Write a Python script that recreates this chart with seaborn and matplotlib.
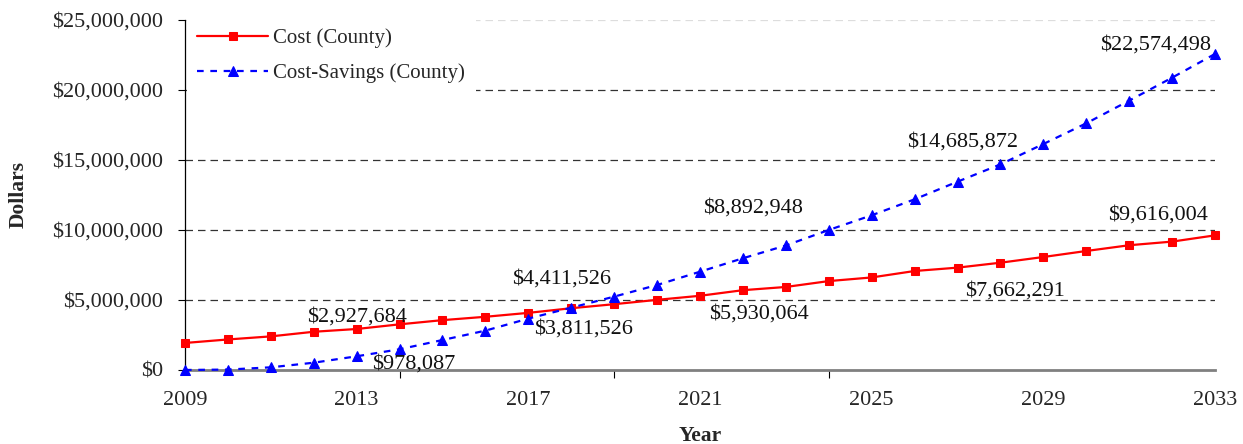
import matplotlib
matplotlib.use("Agg")
import matplotlib.pyplot as plt
from matplotlib.ticker import FuncFormatter, FixedLocator
import seaborn as sns

# data (dollars)
years = list(range(2009, 2034))
cost = [1930000, 2180000, 2400000, 2730000, 2927684, 3260000, 3560000, 3800000,
        4080000, 4411526, 4700000, 5010000, 5300000, 5700000, 5930064, 6350000,
        6610000, 7070000, 7310000, 7662291, 8070000, 8500000, 8910000, 9170000,
        9616004]
savings = [0, 30000, 190000, 520000, 978087, 1480000, 2140000, 2810000,
           3670000, 4450000, 5240000, 6070000, 7020000, 7980000, 8892948,
           10000000, 11050000, 12190000, 13450000, 14685872, 16140000,
           17620000, 19240000, 20880000, 22574498]

# data labels: which series, which year, text
label_series = ["cost", "savings", "cost", "savings", "cost", "savings",
                "cost", "savings", "cost", "savings"]
label_years = [2013, 2013, 2018, 2018, 2023, 2023, 2028, 2028, 2033, 2033]
label_texts = ["$2,927,684", "$978,087", "$4,411,526", "$3,811,526",
               "$5,930,064", "$8,892,948", "$7,662,291", "$14,685,872",
               "$9,616,004", "$22,574,498"]
# label offsets in pixels from the point (x right, y up)
label_offsets = [(0, 12), (57, -8), (-10, 29), (12, -21), (-27, -27),
                 (-33, 37), (15, -28), (-38, 22), (-57, 20), (-59, 9)]

sns.set_style("white")
plt.rcParams["font.family"] = ["Liberation Serif", "DejaVu Serif"]

fig = plt.figure(figsize=(12.43, 4.44), dpi=100)
ax = fig.add_subplot(111)
fig.subplots_adjust(left=0.1488, right=0.9775, bottom=0.1667, top=0.955)

sns.lineplot(x=years, y=cost, color="#FF0000", marker="s", markersize=6,
             markeredgecolor="#FF0000", linewidth=1.6, label="Cost (County)",
             ax=ax, clip_on=False, zorder=4)
sns.lineplot(x=years, y=savings, color="#0000FF", marker="^", markersize=7,
             markeredgecolor="#0000FF", linewidth=1.6,
             linestyle=(0, (3, 3)), label="Cost-Savings (County)",
             ax=ax, clip_on=False, zorder=5)

values = {"cost": dict(zip(years, cost)), "savings": dict(zip(years, savings))}
for s, yr, txt, off in zip(label_series, label_years, label_texts, label_offsets):
    ax.annotate(txt, (yr, values[s][yr]), xytext=off, textcoords="offset pixels",
                ha="center", va="center", fontsize=16, color="#111111",
                zorder=6)

ax.set_xlim(2009, 2033)
ax.set_ylim(0, 25000000)

ax.yaxis.set_major_locator(FixedLocator([0, 5e6, 10e6, 15e6, 20e6, 25e6]))
ax.yaxis.set_major_formatter(FuncFormatter(lambda v, p: f"${v:,.0f}"))
ax.tick_params(axis="y", direction="out", length=5, width=0.8, color="black",
               labelsize=16, pad=11, left=True)

ax.xaxis.set_major_locator(FixedLocator(list(range(2009, 2034, 4))))
ax.xaxis.set_minor_locator(FixedLocator([2009, 2014, 2019, 2024, 2029]))
ax.tick_params(axis="x", which="major", length=0, labelsize=16, pad=15)
ax.tick_params(axis="x", which="minor", direction="out", length=6, width=0.8,
               color="black", bottom=True)

ax.yaxis.grid(True, linestyle=(0, (6, 4)), color="#333333", linewidth=0.9)
gl = ax.yaxis.get_gridlines()
gl[0].set_visible(False)
gl[-1].set_color("#dddddd")
ax.xaxis.grid(False)

sns.despine(ax=ax, top=True, right=True)
ax.spines["left"].set_color("black")
ax.spines["left"].set_linewidth(0.9)
ax.spines["bottom"].set_color("#808080")
ax.spines["bottom"].set_linewidth(2)

ax.set_ylabel("Dollars", fontsize=15.5, fontweight="bold")
ax.yaxis.set_label_coords(-0.152, 0.5)
ax.set_xlabel("Year", fontsize=15.5, fontweight="bold")
ax.xaxis.set_label_coords(0.5, -0.16)

leg = ax.legend(loc="upper left", bbox_to_anchor=(0.002, 1.006), fontsize=15,
                frameon=True, facecolor="white", edgecolor="none",
                framealpha=1, fancybox=False, handlelength=3.4,
                handletextpad=0.25, labelspacing=0.75, borderpad=0.5,
                borderaxespad=0.0)
leg.set_zorder(10)

plt.savefig("out.png", dpi=100)
plt.close()
